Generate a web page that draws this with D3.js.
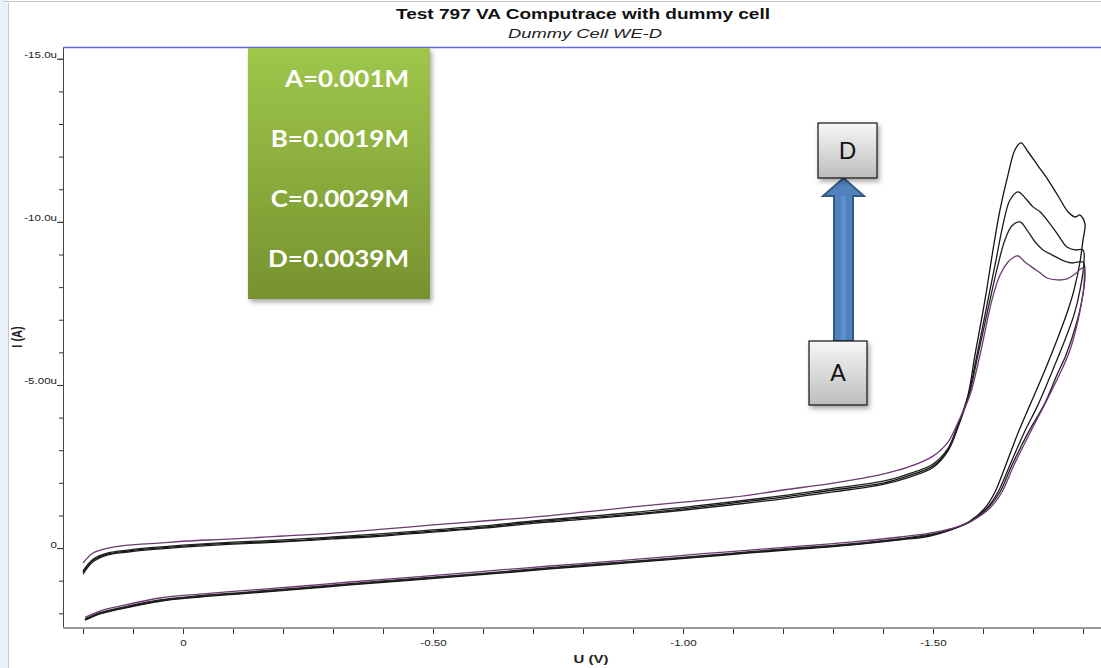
<!DOCTYPE html>
<html>
<head>
<meta charset="utf-8">
<script src="https://cdn.jsdelivr.net/npm/d3@7"></script>
<style>
  body { margin: 0; background: #fff; }
  svg { display: block; }
</style>
</head>
<body>
<div id="chart"></div>
<script>
// values: [U in V, I in uA]
// each curve: forward sweep (upper branch) then the return sweep (lower branch)
const curveA = [
  [0.20, 0.46], [0.18, 0.15], [0.15, 0.00], [0.11, -0.09], [0.05, -0.15], [0.00, -0.21],
  [-0.10, -0.28], [-0.20, -0.37], [-0.30, -0.46], [-0.40, -0.58], [-0.50, -0.71], [-0.60, -0.83],
  [-0.70, -0.95], [-0.80, -1.10], [-0.90, -1.26], [-1.00, -1.41], [-1.10, -1.56], [-1.20, -1.78],
  [-1.30, -1.99], [-1.40, -2.27], [-1.45, -2.48], [-1.50, -2.82], [-1.53, -3.25], [-1.55, -3.85],
  [-1.574, -4.69], [-1.594, -5.92], [-1.618, -7.61], [-1.634, -8.37], [-1.65, -8.77], [-1.66, -8.90],
  [-1.67, -8.96], [-1.684, -8.77], [-1.70, -8.59], [-1.714, -8.44], [-1.728, -8.28], [-1.748, -8.22],
  [-1.768, -8.25], [-1.784, -8.40], [-1.80, -8.59],
  [-1.802, -8.07], [-1.798, -7.61], [-1.788, -6.84], [-1.774, -6.07], [-1.76, -5.55], [-1.728, -4.54],
  [-1.694, -3.53], [-1.66, -2.48], [-1.638, -1.72], [-1.614, -1.23], [-1.58, -0.86], [-1.54, -0.61],
  [-1.494, -0.46], [-1.434, -0.34], [-1.334, -0.18], [-1.234, -0.06], [-1.134, 0.06], [-1.034, 0.18],
  [-0.934, 0.31], [-0.834, 0.43], [-0.734, 0.55], [-0.634, 0.67], [-0.534, 0.80], [-0.434, 0.92],
  [-0.334, 1.04], [-0.234, 1.17], [-0.134, 1.29], [-0.034, 1.41], [0.046, 1.53], [0.126, 1.78],
  [0.166, 1.93], [0.196, 2.12]
]
const curveB = [
  [0.20, 0.70], [0.18, 0.34], [0.15, 0.15], [0.11, 0.06], [0.05, -0.03], [0.00, -0.09],
  [-0.10, -0.18], [-0.20, -0.25], [-0.30, -0.34], [-0.40, -0.44], [-0.50, -0.56], [-0.60, -0.68],
  [-0.70, -0.83], [-0.80, -0.96], [-0.90, -1.09], [-1.00, -1.25], [-1.10, -1.42], [-1.20, -1.61],
  [-1.30, -1.83], [-1.40, -2.05], [-1.45, -2.27], [-1.50, -2.58], [-1.53, -3.06], [-1.55, -3.80],
  [-1.572, -4.69], [-1.59, -5.92], [-1.614, -7.61], [-1.63, -8.68], [-1.644, -9.45], [-1.658, -9.88],
  [-1.674, -10.00], [-1.688, -9.75], [-1.704, -9.39], [-1.72, -9.14], [-1.738, -8.99], [-1.758, -8.83],
  [-1.778, -8.74], [-1.80, -8.77],
  [-1.804, -8.37], [-1.798, -7.61], [-1.786, -6.84], [-1.766, -5.92], [-1.748, -5.31], [-1.722, -4.39],
  [-1.69, -3.53], [-1.656, -2.48], [-1.634, -1.72], [-1.61, -1.23], [-1.578, -0.83], [-1.538, -0.58],
  [-1.494, -0.42], [-1.434, -0.29], [-1.334, -0.13], [-1.234, -0.01], [-1.134, 0.11], [-1.034, 0.24],
  [-0.934, 0.36], [-0.834, 0.48], [-0.734, 0.60], [-0.634, 0.73], [-0.534, 0.85], [-0.434, 0.97],
  [-0.334, 1.09], [-0.234, 1.22], [-0.134, 1.34], [-0.034, 1.46], [0.046, 1.59], [0.126, 1.83],
  [0.166, 1.98], [0.196, 2.17]
]
const curveC = [
  [0.20, 0.80], [0.18, 0.42], [0.15, 0.21], [0.11, 0.12], [0.05, 0.03], [0.00, -0.03],
  [-0.10, -0.12], [-0.20, -0.19], [-0.30, -0.28], [-0.40, -0.37], [-0.50, -0.49], [-0.60, -0.61],
  [-0.70, -0.76], [-0.80, -0.88], [-0.90, -1.01], [-1.00, -1.16], [-1.10, -1.33], [-1.20, -1.51],
  [-1.30, -1.72], [-1.40, -1.95], [-1.45, -2.16], [-1.50, -2.47], [-1.53, -2.98], [-1.55, -3.70],
  [-1.57, -4.62], [-1.588, -5.92], [-1.61, -7.61], [-1.626, -8.83], [-1.64, -9.91], [-1.654, -10.67],
  [-1.67, -10.92], [-1.684, -10.74], [-1.70, -10.46], [-1.714, -10.31], [-1.734, -9.94], [-1.75, -9.60],
  [-1.768, -9.23], [-1.784, -9.14], [-1.80, -9.14],
  [-1.802, -8.77], [-1.794, -7.91], [-1.782, -7.15], [-1.76, -6.23], [-1.738, -5.40], [-1.71, -4.39],
  [-1.682, -3.53], [-1.652, -2.48], [-1.63, -1.72], [-1.608, -1.23], [-1.576, -0.83], [-1.534, -0.55],
  [-1.494, -0.40], [-1.434, -0.27], [-1.334, -0.11], [-1.234, 0.01], [-1.134, 0.13], [-1.034, 0.26],
  [-0.934, 0.38], [-0.834, 0.50], [-0.734, 0.62], [-0.634, 0.75], [-0.534, 0.87], [-0.434, 0.99],
  [-0.334, 1.11], [-0.234, 1.24], [-0.134, 1.36], [-0.034, 1.48], [0.046, 1.61], [0.126, 1.85],
  [0.166, 2.00], [0.196, 2.19]
]
const curveD = [
  [0.20, 0.74], [0.18, 0.37], [0.15, 0.18], [0.11, 0.09], [0.05, 0.00], [0.00, -0.06],
  [-0.10, -0.15], [-0.20, -0.21], [-0.30, -0.31], [-0.40, -0.40], [-0.50, -0.52], [-0.60, -0.64],
  [-0.70, -0.80], [-0.80, -0.92], [-0.90, -1.04], [-1.00, -1.20], [-1.10, -1.38], [-1.20, -1.56],
  [-1.30, -1.78], [-1.40, -1.99], [-1.45, -2.21], [-1.50, -2.52], [-1.53, -3.01], [-1.55, -3.77],
  [-1.57, -4.69], [-1.584, -5.92], [-1.604, -7.61], [-1.62, -9.14], [-1.634, -10.37], [-1.65, -11.44],
  [-1.664, -12.21], [-1.676, -12.42], [-1.69, -12.15], [-1.71, -11.72], [-1.73, -11.29], [-1.75, -10.80],
  [-1.77, -10.31], [-1.784, -10.15], [-1.794, -10.21], [-1.804, -9.94],
  [-1.80, -9.45], [-1.794, -8.77], [-1.782, -7.91], [-1.77, -7.30], [-1.748, -6.38], [-1.724, -5.46],
  [-1.694, -4.39], [-1.67, -3.53], [-1.644, -2.48], [-1.624, -1.72], [-1.604, -1.23], [-1.574, -0.83],
  [-1.534, -0.55], [-1.494, -0.37], [-1.434, -0.25], [-1.334, -0.09], [-1.234, 0.03], [-1.134, 0.15],
  [-1.034, 0.28], [-0.934, 0.40], [-0.834, 0.52], [-0.734, 0.64], [-0.634, 0.77], [-0.534, 0.89],
  [-0.434, 1.01], [-0.334, 1.13], [-0.234, 1.26], [-0.134, 1.38], [-0.034, 1.50], [0.046, 1.63],
  [0.126, 1.87], [0.166, 2.02], [0.196, 2.21]
]

const xTickValues = [0, -0.5, -1.0, -1.5]
const xTickLabels = ["0", "-0.50", "-1.00", "-1.50"]
const yTickValues = [-15, -10, -5, 0]
const yTickLabels = ["-15.0u", "-10.0u", "-5.00u", "0"]
const legendLabels = ["A=0.001M", "B=0.0019M", "C=0.0029M", "D=0.0039M"]

const W = 1101, H = 668
const plot = {left: 63, right: 1101, top: 48, bottom: 628}
const S = 1.36 // the source screenshot is stretched sideways, text too

const svg = d3.select("#chart").append("svg")
    .attr("width", W)
    .attr("height", H)
    .style("font-family", "'Liberation Sans', Arial, sans-serif")

const defs = svg.append("defs")
const green = defs.append("linearGradient").attr("id", "green").attr("x1", 0).attr("y1", 0).attr("x2", 0).attr("y2", 1)
green.append("stop").attr("offset", "0%").attr("stop-color", "#9fc74b")
green.append("stop").attr("offset", "100%").attr("stop-color", "#76922e")
const grey = defs.append("linearGradient").attr("id", "grey").attr("x1", 0).attr("y1", 0).attr("x2", 0).attr("y2", 1)
grey.append("stop").attr("offset", "0%").attr("stop-color", "#f7f7f7")
grey.append("stop").attr("offset", "100%").attr("stop-color", "#bdbdbd")
const shadow = defs.append("filter").attr("id", "shadow").attr("x", "-20%").attr("y", "-20%").attr("width", "140%").attr("height", "140%")
shadow.append("feDropShadow").attr("dx", 2).attr("dy", 3).attr("stdDeviation", 2.5).attr("flood-color", "#000").attr("flood-opacity", 0.35)
defs.append("clipPath").attr("id", "plotclip").append("rect")
    .attr("x", plot.left).attr("y", plot.top)
    .attr("width", plot.right - plot.left).attr("height", plot.bottom - plot.top)

// window frame
svg.append("rect").attr("width", W).attr("height", H).attr("fill", "#fff")
svg.append("rect").attr("x", 0).attr("y", 0).attr("width", 8).attr("height", H).attr("fill", "#eaf0f8")
svg.append("line").attr("x1", 8.5).attr("x2", 8.5).attr("y1", 3).attr("y2", H).attr("stroke", "#c4c8cc")
svg.append("line").attr("x1", 3).attr("x2", W).attr("y1", 1.5).attr("y2", 1.5).attr("stroke", "#c9c9c9")

const x = d3.scaleLinear().domain([0.24, -1.836]).range([plot.left, plot.right])
const y = d3.scaleLinear().domain([2.45, -15.33]).range([plot.bottom, plot.top])

// titles
svg.append("text").attr("transform", `translate(583,19) scale(${S},1)`)
    .attr("text-anchor", "middle").style("font-size", "14px").style("font-weight", "bold").attr("fill", "#111")
    .text("Test 797 VA Computrace with dummy cell")
svg.append("text").attr("transform", `translate(585,38) scale(${S},1)`)
    .attr("text-anchor", "middle").style("font-size", "13.5px").style("font-style", "italic").attr("fill", "#222")
    .text("Dummy Cell WE-D")

// top border line of the plot
svg.append("line").attr("x1", plot.left).attr("x2", plot.right).attr("y1", plot.top - 0.5).attr("y2", plot.top - 0.5)
    .attr("stroke", "#6464f0").attr("stroke-width", 1.5)

// y axis
const yMinor = svg.append("g").attr("transform", `translate(${plot.left},0)`)
    .call(d3.axisLeft(y).tickValues(d3.range(-15, 3, 1)).tickSize(4).tickFormat(""))
const yMajor = svg.append("g").attr("transform", `translate(${plot.left},0)`)
    .call(d3.axisLeft(y).tickValues(yTickValues).tickSize(6).tickFormat((d, i) => yTickLabels[i]))
yMinor.select(".domain").remove()
yMajor.select(".domain").remove()
svg.selectAll(".tick line").attr("stroke", "#333")
yMajor.selectAll("text")
    .attr("x", 0).attr("dy", 0)
    .attr("transform", `translate(-6,-1) scale(${S},1)`)
    .attr("fill", "#222").style("font-size", "8.5px").style("font-family", "'Liberation Sans', Arial, sans-serif")
svg.append("line").attr("x1", plot.left + 0.5).attr("x2", plot.left + 0.5).attr("y1", plot.top).attr("y2", plot.bottom)
    .attr("stroke", "#444")

// x axis
const xMinor = svg.append("g").attr("transform", `translate(0,${plot.bottom + 1})`)
    .call(d3.axisBottom(x).tickValues(d3.range(0.2, -1.85, -0.1)).tickSize(5).tickFormat(""))
const xMajor = svg.append("g").attr("transform", `translate(0,${plot.bottom + 1})`)
    .call(d3.axisBottom(x).tickValues(xTickValues).tickSize(5).tickFormat((d, i) => xTickLabels[i]))
xMinor.select(".domain").remove()
xMajor.select(".domain").remove()
svg.selectAll(".tick line").attr("stroke", "#333")
xMajor.selectAll("text")
    .attr("y", 0).attr("dy", 0)
    .attr("transform", `translate(0,17) scale(${S},1)`)
    .attr("fill", "#222").style("font-size", "8.5px").style("font-family", "'Liberation Sans', Arial, sans-serif")
svg.append("line").attr("x1", plot.left).attr("x2", plot.right).attr("y1", plot.bottom).attr("y2", plot.bottom)
    .attr("stroke", "#9a9a9a").attr("stroke-width", 2)

// axis titles
svg.append("text").attr("transform", `translate(591,663) scale(${S},1)`)
    .attr("text-anchor", "middle").style("font-size", "11px").style("font-weight", "bold").attr("fill", "#222")
    .text("U (V)")
svg.append("text").attr("transform", `translate(22,337) rotate(-90) scale(1,${S})`)
    .attr("text-anchor", "middle").style("font-size", "11px").style("font-weight", "bold").attr("fill", "#222")
    .text("I (A)")

// the four voltammograms
const curves = [
    {key: "D", pts: curveD, color: "#141414"},
    {key: "C", pts: curveC, color: "#1c1c1c"},
    {key: "B", pts: curveB, color: "#222222"},
    {key: "A", pts: curveA, color: "#6e3a74"}
]
const line = d3.line()
    .x(d => x(d[0]))
    .y(d => y(d[1]))
    .curve(d3.curveCatmullRom.alpha(0.5))

svg.append("g").attr("clip-path", "url(#plotclip)")
    .selectAll("path")
    .data(curves)
    .enter()
    .append("path")
    .attr("d", d => line(d.pts))
    .attr("fill", "none")
    .attr("stroke", d => d.color)
    .attr("stroke-width", 1.3)
    .attr("stroke-linejoin", "round")

// legend box (pasted-on label panel)
const legend = svg.append("g")
legend.append("rect").attr("x", 248).attr("y", 48).attr("width", 182).attr("height", 251)
    .attr("fill", "url(#green)").attr("filter", "url(#shadow)")
legend.selectAll("text")
    .data(legendLabels)
    .enter()
    .append("text")
    .attr("transform", (d, i) => `translate(409,${87 + i * 60}) scale(1.13,1)`)
    .attr("text-anchor", "end")
    .attr("fill", "#fff")
    .style("font-family", "Lato, 'Open Sans', sans-serif")
    .style("font-size", "23px")
    .style("font-weight", "bold")
    .text(d => d)

// arrow A -> D
svg.append("path")
    .attr("d", "M834,341 L834,196 L823,196 L843.5,178 L864,196 L853,196 L853,341 Z")
    .attr("fill", "#4f81bd").attr("stroke", "#345a86").attr("stroke-width", 2)
svg.append("line").attr("x1", 843.5).attr("x2", 843.5).attr("y1", 196).attr("y2", 340)
    .attr("stroke", "#5d8fcc").attr("stroke-width", 5)

const boxes = [
    {label: "D", x: 818, y: 123, w: 59, h: 55},
    {label: "A", x: 809, y: 341, w: 58, h: 64}
]
const bg = svg.selectAll("g.box").data(boxes).enter().append("g").attr("class", "box")
bg.append("rect")
    .attr("x", d => d.x).attr("y", d => d.y).attr("width", d => d.w).attr("height", d => d.h)
    .attr("fill", "url(#grey)").attr("stroke", "#111").attr("stroke-width", 1.2)
    .attr("filter", "url(#shadow)")
bg.append("text")
    .attr("x", d => d.x + d.w / 2)
    .attr("y", d => d.y + d.h / 2 + 8)
    .attr("text-anchor", "middle")
    .attr("fill", "#111")
    .style("font-family", "Lato, 'Open Sans', sans-serif")
    .style("font-size", "23px")
    .text(d => d.label)
</script>
</body>
</html>
